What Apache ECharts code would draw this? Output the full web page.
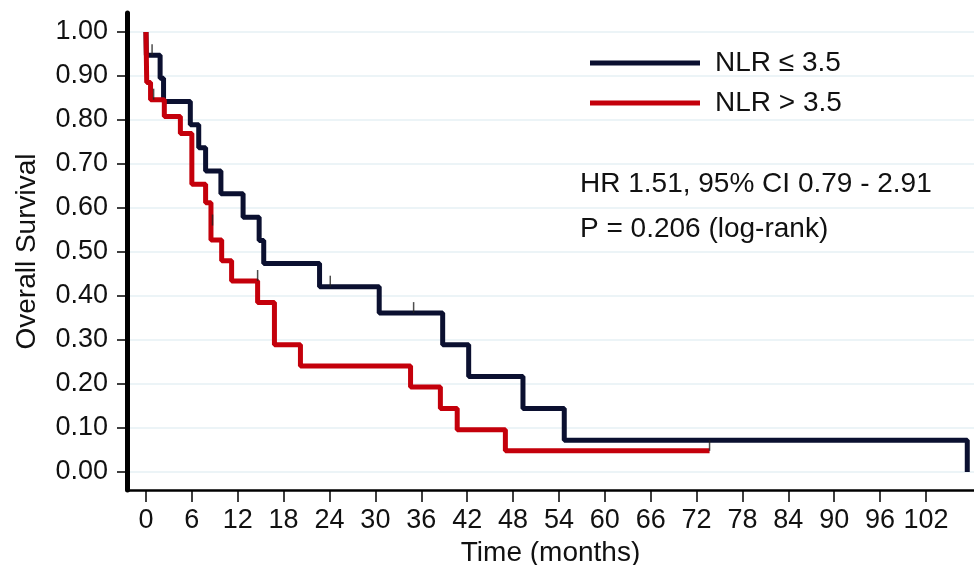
<!DOCTYPE html>
<html>
<head>
<meta charset="utf-8">
<title>Overall Survival by NLR</title>
<script src="https://cdn.jsdelivr.net/npm/echarts@6/dist/echarts.min.js"></script>
<style>
  html, body { margin: 0; padding: 0; background: #fff; }
  #chart { width: 974px; height: 565px; }
</style>
</head>
<body>
<div id="chart"></div>
<script>
// Kaplan-Meier steps: [months, survival]
const lowNlr = [
  [0, 1.0], [0.05, 0.947], [1.85, 0.895], [2.3, 0.842], [5.8, 0.789], [6.9, 0.737],
  [7.8, 0.684], [9.8, 0.632], [12.7, 0.579], [14.8, 0.526], [15.4, 0.474],
  [22.7, 0.421], [30.5, 0.361], [38.8, 0.289], [42.2, 0.217], [49.3, 0.144],
  [54.7, 0.072], [107.4, 0.0]
]
const highNlr = [
  [0, 1.0], [0.1, 0.885], [0.6, 0.846], [2.4, 0.808], [4.5, 0.769], [6.0, 0.654],
  [7.8, 0.612], [8.5, 0.527], [9.9, 0.48], [11.2, 0.434], [14.6, 0.385],
  [16.8, 0.289], [20.2, 0.241], [34.6, 0.193], [38.5, 0.144], [40.7, 0.096],
  [47.0, 0.048], [73.7, 0.048]
]
// censored observations (tick marks)
const lowCensor = [[0.8, 0.947], [24.1, 0.421], [35.0, 0.361]]
const highCensor = [[1.0, 0.846], [8.7, 0.56], [14.6, 0.434], [73.7, 0.048]]

const xTicks = [0, 6, 12, 18, 24, 30, 36, 42, 48, 54, 60, 66, 72, 78, 84, 90, 96, 102]
const yTicks = [0, 0.1, 0.2, 0.3, 0.4, 0.5, 0.6, 0.7, 0.8, 0.9, 1.0]
const seriesNames = ['NLR \u2264 3.5', 'NLR > 3.5']
const statLines = ['HR 1.51, 95% CI 0.79 - 2.91', 'P = 0.206 (log-rank)']

const font = '"Liberation Sans", Arial, sans-serif'
const navy = '#0b1030'
const red = '#c4000b'

let myChart = echarts.init(document.getElementById('chart'))
myChart.setOption({
  animation: false,
  backgroundColor: '#fff',
  grid: {
    left: 127,
    right: 0,
    top: 13,
    bottom: 75,
    outerBoundsMode: 'none'
  },
  legend: {
    data: seriesNames,
    orient: 'vertical',
    left: 585,
    top: 44,
    icon: 'rect',
    itemWidth: 110,
    itemHeight: 5,
    itemGap: 12,
    textStyle: {
      fontFamily: font,
      fontSize: 28,
      color: '#111',
      lineHeight: 28,
      padding: [0, 0, 0, 10]
    }
  },
  graphic: [
    {
      type: 'text',
      left: 580,
      top: 170,
      style: { text: statLines[0], font: '28px ' + font, fill: '#111' }
    },
    {
      type: 'text',
      left: 580,
      top: 215,
      style: { text: statLines[1], font: '28px ' + font, fill: '#111' }
    }
  ],
  xAxis: {
    type: 'value',
    min: -2.48,
    max: 108.28,
    name: 'Time (months)',
    nameLocation: 'middle',
    nameGap: 45,
    nameTextStyle: { fontFamily: font, fontSize: 28, color: '#111' },
    axisLine: { onZero: false, lineStyle: { color: '#000', width: 2.5 } },
    axisTick: { customValues: xTicks, length: 12, lineStyle: { color: '#000', width: 1.5 } },
    axisLabel: {
      customValues: xTicks,
      fontFamily: font,
      fontSize: 27,
      color: '#111',
      margin: 17
    },
    splitLine: { show: false }
  },
  yAxis: {
    type: 'value',
    min: -0.041,
    max: 1.043,
    name: 'Overall Survival',
    nameLocation: 'middle',
    nameGap: 86,
    nameTextStyle: { fontFamily: font, fontSize: 28, color: '#111' },
    axisLine: { show: true, onZero: false, lineStyle: { color: '#000', width: 5 } },
    axisTick: { show: true, customValues: yTicks, length: 10, lineStyle: { color: '#000', width: 1.5 } },
    axisLabel: {
      customValues: yTicks,
      fontFamily: font,
      fontSize: 27,
      color: '#111',
      margin: 19,
      formatter: v => v.toFixed(2)
    },
    splitLine: { show: true, lineStyle: { color: '#e6f1f5', width: 1.5 } }
  },
  series: [
    {
      name: seriesNames[0],
      type: 'line',
      step: 'end',
      showSymbol: false,
      symbol: 'none',
      color: navy,
      lineStyle: { color: navy, width: 5 },
      data: lowNlr,
      z: 3
    },
    {
      name: seriesNames[1],
      type: 'line',
      step: 'end',
      showSymbol: false,
      symbol: 'none',
      color: red,
      lineStyle: { color: red, width: 5 },
      data: highNlr,
      z: 4
    },
    {
      name: 'censor-low',
      type: 'scatter',
      symbol: 'rect',
      symbolSize: [1.5, 11],
      symbolOffset: [0, '-50%'],
      itemStyle: { color: '#222' },
      data: lowCensor,
      z: 5
    },
    {
      name: 'censor-high',
      type: 'scatter',
      symbol: 'rect',
      symbolSize: [1.5, 11],
      symbolOffset: [0, '-50%'],
      itemStyle: { color: '#222' },
      data: highCensor,
      z: 5
    }
  ]
})
</script>
</body>
</html>
